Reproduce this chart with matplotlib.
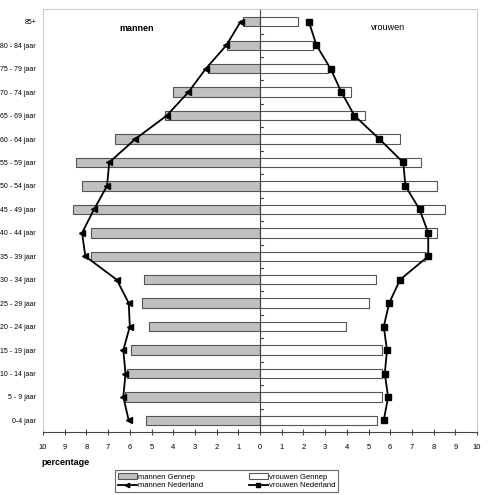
import numpy as np
import matplotlib
matplotlib.use("Agg")
import matplotlib.pyplot as plt

plt.rcParams['font.family'] = ['Liberation Sans', 'DejaVu Sans']

# age groups, bottom to top
leeftijd = ["0-4 jaar", "5 - 9 jaar", "10 - 14 jaar", "15 - 19 jaar", "20 - 24 jaar",
            "25 - 29 jaar", "30 - 34 jaar", "35 - 39 jaar", "40 - 44 jaar", "45 - 49 jaar",
            "50 - 54 jaar", "55 - 59 jaar", "60 - 64 jaar", "65 - 69 jaar", "70 - 74 jaar",
            "75 - 79 jaar", "80 - 84 jaar", "85+"]

mannen_gennep = [5.25, 6.2, 6.15, 5.95, 5.1, 5.45, 5.35, 7.8, 7.8, 8.6,
                 8.2, 8.5, 6.7, 4.4, 4.0, 2.4, 1.5, 0.8]
vrouwen_gennep = [5.4, 5.6, 5.6, 5.6, 3.95, 5.0, 5.35, 7.6, 8.15, 8.5,
                  8.15, 7.4, 6.45, 4.85, 4.2, 3.15, 2.45, 1.75]
mannen_nl = [6.05, 6.3, 6.2, 6.3, 6.0, 6.05, 6.6, 8.05, 8.2, 7.65,
             7.05, 6.95, 5.75, 4.3, 3.3, 2.5, 1.55, 0.9]
vrouwen_nl = [5.7, 5.9, 5.75, 5.85, 5.7, 5.95, 6.45, 7.75, 7.75, 7.35,
              6.7, 6.6, 5.5, 4.35, 3.75, 3.25, 2.6, 2.25]

y = np.arange(len(leeftijd))

fig = plt.figure(figsize=(4.91, 4.95), dpi=100)
ax = fig.add_axes([0.0876, 0.127, 0.884, 0.855])

b1 = ax.barh(y, -np.array(mannen_gennep), height=0.4, color='#c0c0c0', edgecolor='#555555',
             linewidth=0.8, label='mannen Gennep')
b2 = ax.barh(y, vrouwen_gennep, height=0.4, color='white', edgecolor='#555555',
             linewidth=0.8, label='vrouwen Gennep')
l1, = ax.plot(-np.array(mannen_nl), y, color='black', lw=1.3, marker='<', ms=4.5,
              label='mannen Nederland')
l2, = ax.plot(vrouwen_nl, y, color='black', lw=1.3, marker='s', ms=4.5,
              label='vrouwen Nederland')

ax.set_xlim(-10, 10)
ax.set_ylim(-0.5, 17.55)

# center axis with small ticks between groups
ax.axvline(0, color='#444444', lw=0.8)
for yy in np.arange(-0.5, 17.5, 1):
    ax.plot([0, 0.12], [yy, yy], color='#444444', lw=0.8)

ax.set_xticks(np.arange(-10, 11, 1))
ax.set_xticklabels([str(abs(v)) for v in range(-10, 11)], fontsize=5.5)
ax.tick_params(axis='x', direction='inout', length=5, width=0.8, color='#444444', pad=6)
ax.set_yticks(y)
ax.set_yticklabels(leeftijd, fontsize=5)
ax.tick_params(axis='y', length=0, pad=5)

for s in ['left', 'top', 'right']:
    ax.spines[s].set_color('#cccccc')
ax.spines['bottom'].set_color('#444444')
ax.spines['bottom'].set_linewidth(0.8)

ax.text(-5.7, 16.7, 'mannen', fontsize=6.5, fontweight='bold', ha='center', va='center')
ax.text(5.9, 16.75, 'vrouwen', fontsize=6.5, ha='center', va='center')

fig.text(0.085, 0.066, 'percentage', fontsize=6.5, fontweight='bold', ha='left', va='center')

leg = fig.legend([b1, l1, b2, l2],
                 ['mannen Gennep', 'mannen Nederland', 'vrouwen Gennep', 'vrouwen Nederland'],
                 loc='upper left', bbox_to_anchor=(0.226, 0.058), ncol=2, fontsize=5.5,
                 frameon=True, fancybox=False, edgecolor='#444444', borderpad=0.4,
                 handlelength=2.5, handletextpad=0.1, columnspacing=6.0, labelspacing=0.2,
                 markerscale=0.7)
leg.get_frame().set_linewidth(0.8)

fig.savefig('out.png', dpi=100)
